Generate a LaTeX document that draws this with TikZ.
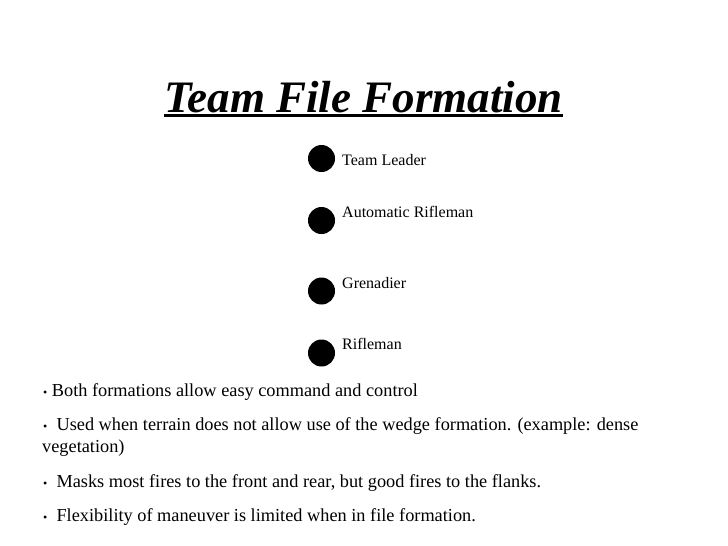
\documentclass[tikz,border=0pt]{standalone}
\usepackage{fontspec}
\setmainfont{Liberation Serif}
\usepackage{tikz}
\usetikzlibrary{positioning}

\begin{document}
\begin{tikzpicture}[
    x=1pt, y=-1pt,
    heading/.style={inner sep=0pt, anchor=base,
                    font=\fontsize{45}{45}\selectfont\bfseries\itshape},
    member/.style={circle, fill=black, inner sep=0pt, minimum size=27pt},
    role/.style={inner sep=0pt, anchor=base west, font=\fontsize{16}{16}\selectfont},
    point/.style={inner sep=0pt, anchor=base west, font=\fontsize{18.3}{22}\selectfont},
]
    \fill[white] (0,0) rectangle (728,546);
    \useasboundingbox (0,0) rectangle (728,546);

    % Title
    \node[heading] (title) at (363.5, 112) {Team File Formation};
    \draw[line width=2.5pt] ([yshift=-3.5pt]title.base west) -- ([yshift=-3.5pt]title.base east);

    % Team members in file
    \foreach \cy/\by/\r [count=\i] in {158.5/165/Team Leader, 220.5/217/Automatic Rifleman,
                                      291/288/Grenadier, 353/349/Rifleman} {
        \node[member] (dot\i) at (321.5, \cy) {};
        \node[role] (role\i) at (342, \by) {\r};
    }

    % Notes
    \newcommand{\blt}{{\fontsize{12}{12}\selectfont\textbullet}}
    \node[point] (note1) at (43, 396) {\blt\ Both formations allow easy command and control};
    \node[point] (note2) at (43, 430) {\blt\ \ Used when terrain does not allow use of the wedge formation. (example: dense};
    \node[point] (note2b) at (42, 452) {vegetation)};
    \node[point] (note3) at (43, 487) {\blt\ \ Masks most fires to the front and rear, but good fires to the flanks.};
    \node[point] (note4) at (43, 521) {\blt\ \ Flexibility of maneuver is limited when in file formation.};
\end{tikzpicture}
\end{document}
